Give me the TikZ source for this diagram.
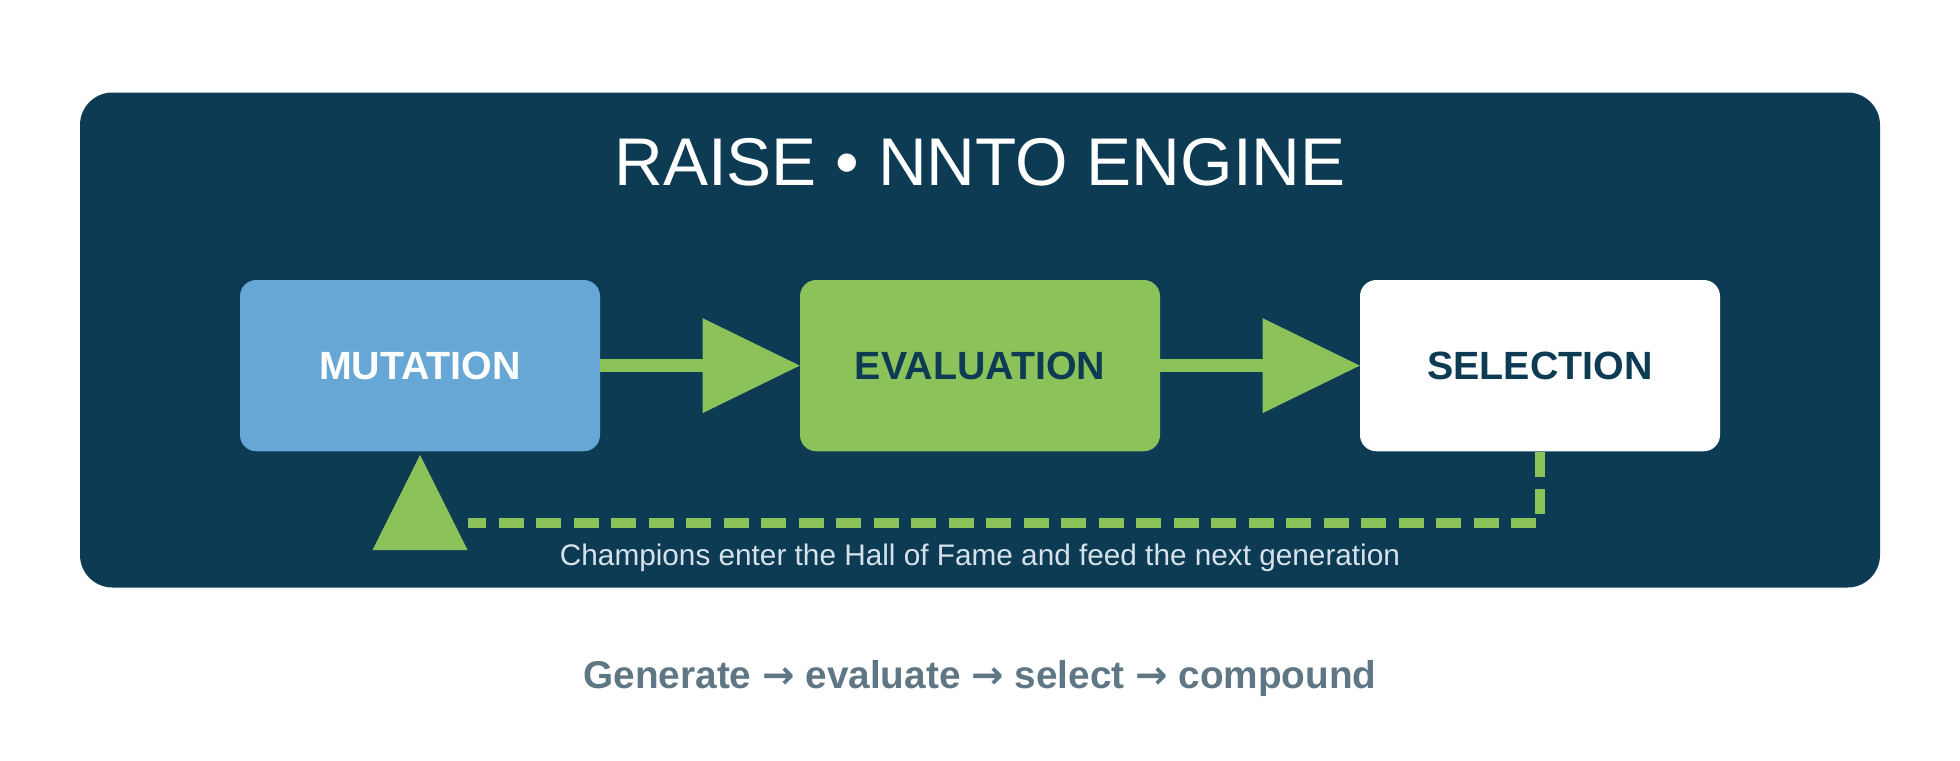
\documentclass[tikz,border=0pt]{standalone}
\usepackage{fontspec}
\setmainfont{Liberation Sans}
\newfontfamily\arrowfont{DejaVu Sans}
\definecolor{navy}{HTML}{0E3B54}
\definecolor{blueb}{HTML}{67A7D5}
\definecolor{greenb}{HTML}{8BC35A}
\definecolor{capc}{HTML}{D6E2EA}
\definecolor{subc}{HTML}{5F7785}
\newcommand{\rarr}{{\arrowfont\char"2192}}
\begin{document}
\begin{tikzpicture}[x=1pt,y=-1pt,
  box/.style={rounded corners=13pt,minimum width=288pt,minimum height=137pt,inner sep=0pt,font=\fontsize{31.5}{36}\selectfont\bfseries},
  flow/.style={greenb,line width=10pt},
  head/.style={fill=greenb,draw=none}]
\useasboundingbox (0,0) rectangle (1568,608);
\fill[white] (0,0) rectangle (1568,608);
\node[fill=navy,rounded corners=26pt,minimum width=1440pt,minimum height=396pt,inner sep=0pt] (panel) at (784,272) {};
\node[white,font=\fontsize{54}{60}\selectfont] (title) at (784,130) {RAISE • NNTO ENGINE};
\node[box,fill=blueb,text=white] (mut) at (336,292.5) {MUTATION};
\node[box,fill=greenb,text=navy] (eva) at (784,292.5) {EVALUATION};
\node[box,fill=white,text=navy] (sel) at (1232,292.5) {SELECTION};
% arrow 1
\coordinate (h1) at (562,292.5);
\draw[flow] (mut.east) -- (h1);
\fill[head] (h1) ++(0,-38) -- (eva.west) -- (562,330.5) -- cycle;
% arrow 2
\coordinate (h2) at (1010,292.5);
\draw[flow] (eva.east) -- (h2);
\fill[head] (h2) ++(0,-38) -- (sel.west) -- (1010,330.5) -- cycle;
% feedback
\coordinate (fb) at (374,418);
\draw[greenb,line width=8pt,dash pattern=on 20pt off 10pt] (sel.south) |- (fb);
\coordinate (tip) at (336,364);
\fill[head] (tip) -- (374,440) -- (298,440) -- cycle;
\node[capc,font=\fontsize{23.8}{26}\selectfont] (cap) at (784,446) {Champions enter the Hall of Fame and feed the next generation};
\node[subc,font=\fontsize{31}{36}\selectfont\bfseries] (sub) at (784,543) {Generate \rarr{} evaluate \rarr{} select \rarr{} compound};
\end{tikzpicture}
\end{document}
